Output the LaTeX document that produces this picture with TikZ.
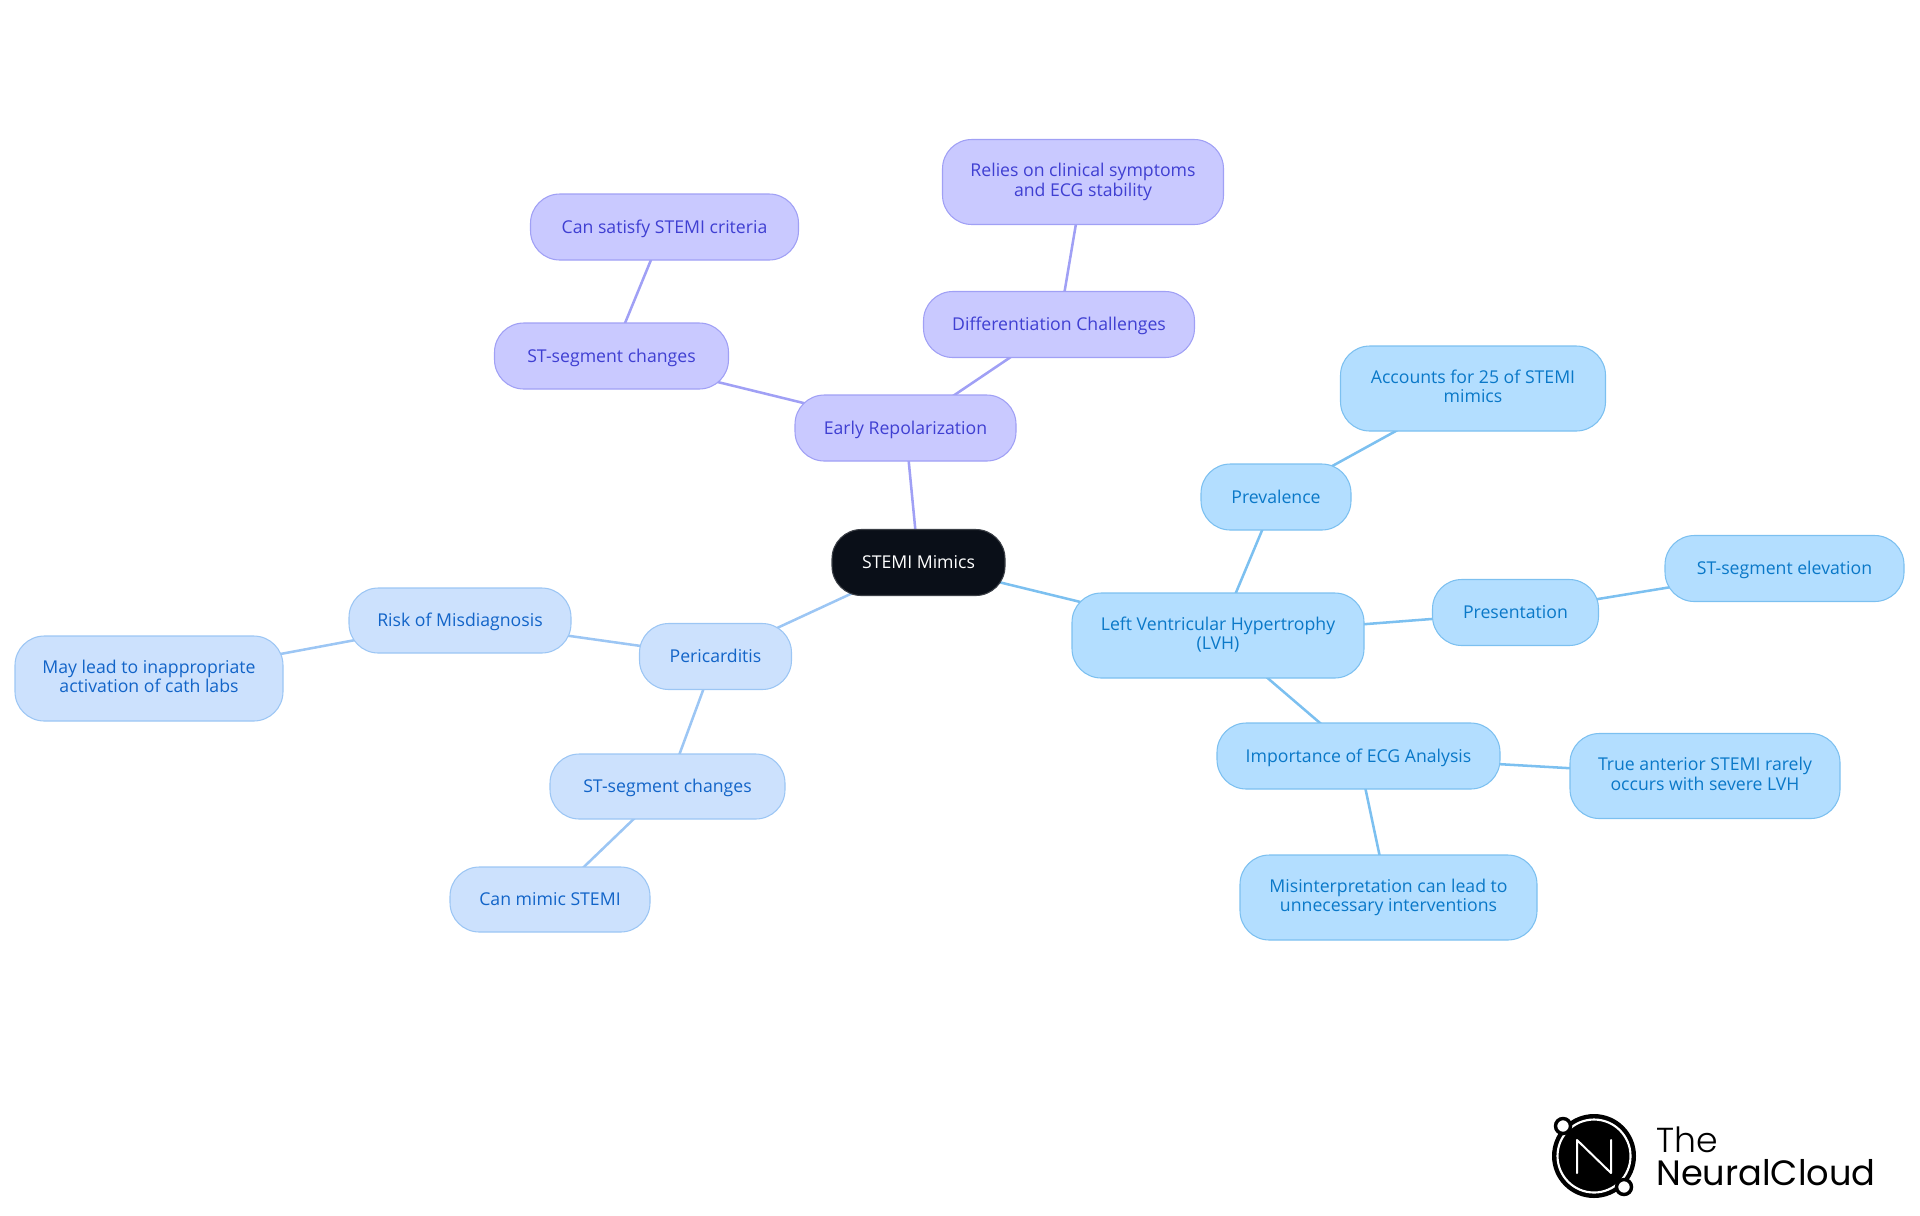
\documentclass[tikz,border=0pt]{standalone}
\usepackage{fontspec}
\setmainfont{Open Sans}
\newfontfamily\logofont{Poppins}
\newfontfamily\logolight{Poppins Light}
\usetikzlibrary{backgrounds}
\definecolor{skyfill}{HTML}{B3DEFF}\definecolor{skyline}{HTML}{7CC0F0}\definecolor{skytext}{HTML}{0A78C8}
\definecolor{bluefill}{HTML}{CCE1FD}\definecolor{blueline}{HTML}{9CC6F4}\definecolor{bluetext}{HTML}{1264C8}
\definecolor{purpfill}{HTML}{C9C9FF}\definecolor{purpline}{HTML}{A0A0F5}\definecolor{purptext}{HTML}{3F3FD2}
\definecolor{rootfill}{HTML}{0A0F18}
\tikzset{
 box/.style={rectangle,rounded corners=22pt,draw,line width=0.8pt,inner sep=0pt,align=center,
   font=\fontsize{13.25}{14.6}\selectfont,
   execute at begin node={\vphantom{\raisebox{2.8pt}{Ag}}},execute at end node={\vphantom{Ag}}},
 sky/.style={box,fill=skyfill,draw=skyline,text=skytext},
 blu/.style={box,fill=bluefill,draw=blueline,text=bluetext},
 pur/.style={box,fill=purpfill,draw=purpline,text=purptext},
 root/.style={box,fill=rootfill,draw=rootfill!80!white,text=white},
 skyedge/.style={draw=skyline,line width=1.9pt},
 bluedge/.style={draw=blueline,line width=1.9pt},
 puredge/.style={draw=purpline,line width=1.9pt},
 sz/.style n args={2}{minimum width=#1*0.75pt,minimum height=#2*0.75pt},
}
\begin{document}
\begin{tikzpicture}[x=0.75pt,y=-0.75pt]
\useasboundingbox (0,0) rectangle (1920,1215);
% root
\node[root,sz={173}{66}] (stemi) at (918.5,562.5) {STEMI Mimics};
% purple
\node[pur,sz={221}{66}] (early) at (905.5,428) {Early Repolarization};
\node[pur,sz={234}{66}] (pst) at (611.5,356) {ST-segment changes};
\node[pur,sz={268}{66}] (psat) at (664.5,227) {Can satisfy STEMI criteria};
\node[pur,sz={271}{66}] (diff) at (1059,324.5) {Differentiation Challenges};
\node[pur,sz={281}{85}] (rel) at (1083,182) {Relies on clinical symptoms\\and ECG stability};
% sky
\node[sky,sz={292}{85}] (lvh) at (1218,635.5) {Left Ventricular Hypertrophy\\(LVH)};
\node[sky,sz={150}{66}] (prev) at (1276,497) {Prevalence};
\node[sky,sz={265}{85}] (acc) at (1473,388.5) {Accounts for 25 of STEMI\\mimics};
\node[sky,sz={166}{66}] (pres) at (1515.5,612.5) {Presentation};
\node[sky,sz={239}{66}] (elev) at (1784.5,568.5) {ST-segment elevation};
\node[sky,sz={283}{66}] (imp) at (1358.5,756) {Importance of ECG Analysis};
\node[sky,sz={270}{85}] (true) at (1705,776) {True anterior STEMI rarely\\occurs with severe LVH};
\node[sky,sz={297}{85}] (mis) at (1388.5,897.5) {Misinterpretation can lead to\\unnecessary interventions};
% blue
\node[blu,sz={152}{66}] (peri) at (715.5,656.5) {Pericarditis};
\node[blu,sz={222}{65}] (risk) at (460,620.5) {Risk of Misdiagnosis};
\node[blu,sz={268}{85}] (may) at (149,678.5) {May lead to inappropriate\\activation of cath labs};
\node[blu,sz={235}{65}] (bst) at (667.5,786.5) {ST-segment changes};
\node[blu,sz={200}{65}] (mimic) at (550,899.5) {Can mimic STEMI};
% connectors
\begin{pgfonlayer}{background}
\draw[puredge] (stemi.center)--(early.center);
\draw[puredge] (early.center)--(pst.center);
\draw[puredge] (pst.center)--(psat.center);
\draw[puredge] (early.center)--(diff.center);
\draw[puredge] (diff.center)--(rel.center);
\draw[skyedge] (stemi.center)--(lvh.center);
\draw[skyedge] (lvh.center)--(prev.center);
\draw[skyedge] (prev.center)--(acc.center);
\draw[skyedge] (lvh.center)--(pres.center);
\draw[skyedge] (pres.center)--(elev.center);
\draw[skyedge] (lvh.center)--(imp.center);
\draw[skyedge] (imp.center)--(true.center);
\draw[skyedge] (imp.center)--(mis.center);
\draw[bluedge] (stemi.center)--(peri.center);
\draw[bluedge] (peri.center)--(risk.center);
\draw[bluedge] (risk.center)--(may.center);
\draw[bluedge] (peri.center)--(bst.center);
\draw[bluedge] (bst.center)--(mimic.center);
\end{pgfonlayer}
% logo
\fill[black] (1594,1156) circle[radius=42];
\draw[white,line width=1.6pt] (1594,1156) circle[radius=36.5];
\draw[black,fill=white,line width=2.6pt] (1563,1126) circle[radius=7.5];
\draw[black,fill=white,line width=2.6pt] (1624,1187) circle[radius=7.5];
\draw[white,line width=1.5pt,line join=round,line cap=round] (1577,1173)--(1577,1140)--(1611,1173)--(1611,1140);
\node[anchor=base west,inner sep=0pt,font=\logolight\fontsize{26}{26}\selectfont] (lthe) at (1656,1152) {The};
\node[anchor=base west,inner sep=0pt,font=\logofont\fontsize{26.4}{26}\selectfont] (lnc) at (1656,1185) {NeuralCloud};
\end{tikzpicture}
\end{document}
